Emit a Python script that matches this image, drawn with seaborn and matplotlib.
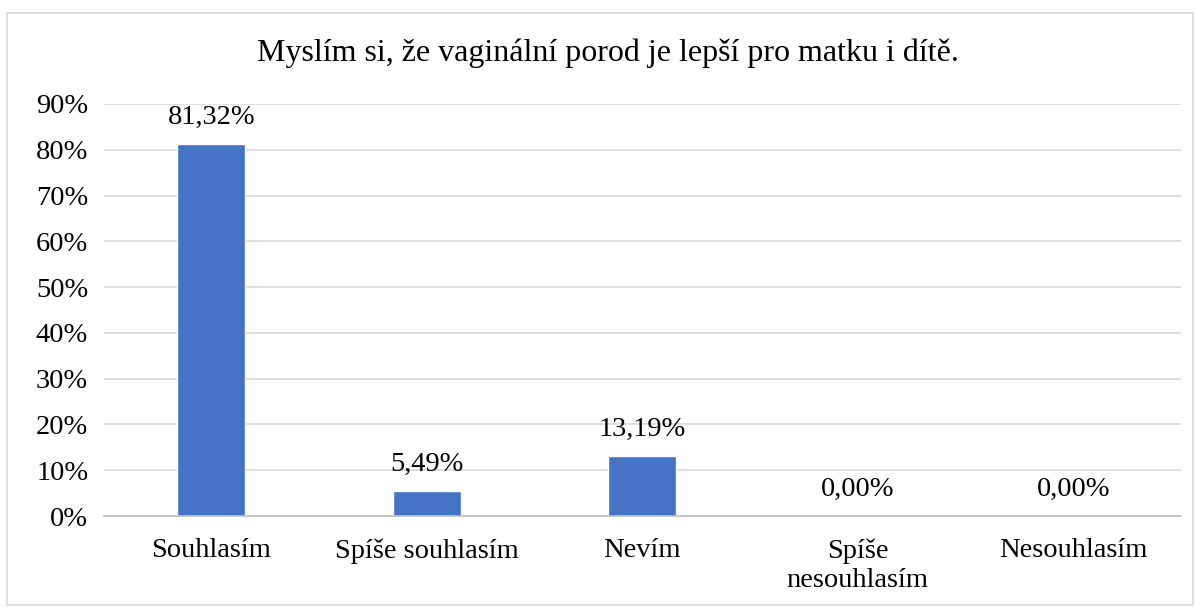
import matplotlib
matplotlib.use("Agg")
import matplotlib.pyplot as plt
import seaborn as sns
import pandas as pd
from matplotlib.patches import Rectangle
from matplotlib.ticker import FuncFormatter

categories = ["Souhlasím", "Spíše souhlasím", "Nevím", "Spíše\nnesouhlasím", "Nesouhlasím"]
values = [81.32, 5.49, 13.19, 0.00, 0.00]
title = "Myslím si, že vaginální porod je lepší pro matku i dítě."

sns.set_theme(style="white")
plt.rcParams['font.family'] = ['Liberation Serif', 'DejaVu Serif']
plt.rcParams['text.color'] = 'black'

fig = plt.figure(figsize=(11.96, 6.07), dpi=100)
fig.patches.append(Rectangle((7/1196, 1 - 605/607), 1186/1196, 592/607, transform=fig.transFigure,
                             fill=False, edgecolor="#d9d9d9", linewidth=1.2))
ax = fig.add_axes([103.5/1196, 1 - 516/607, (1181 - 103.5)/1196, (516 - 104)/607])

df = pd.DataFrame({"cat": categories, "val": values})
sns.barplot(data=df, x="cat", y="val", color="#4472C4", width=0.315, ax=ax, saturation=1)

ax.set_ylim(0, 90)
ax.set_yticks(range(0, 91, 10))
ax.yaxis.set_major_formatter(FuncFormatter(lambda v, p: f"{int(v)}%"))
ax.grid(axis="y", color="#d9d9d9", linewidth=1.2)
ax.set_axisbelow(True)
for s in ["top", "right", "left"]:
    ax.spines[s].set_visible(False)
ax.spines["bottom"].set_color("#bfbfbf")
ax.spines["bottom"].set_linewidth(1.2)
ax.tick_params(axis="both", length=0, labelsize=20.5, colors="black")
ax.tick_params(axis="y", pad=11)
ax.tick_params(axis="x", pad=16)
for lbl in ax.get_xticklabels():
    lbl.set_linespacing(1.25)
ax.set_xlabel("")
ax.set_ylabel("")

for i, v in enumerate(values):
    ax.annotate(f"{v:.2f}%".replace(".", ","), (i, v), xytext=(0, 19), textcoords="offset points",
                ha="center", va="center", fontsize=20.5, color="black")

fig.text(608/1196, 1 - 53/607, title, ha="center", va="center", fontsize=23, color="black")

fig.savefig("out.png", dpi=100)
